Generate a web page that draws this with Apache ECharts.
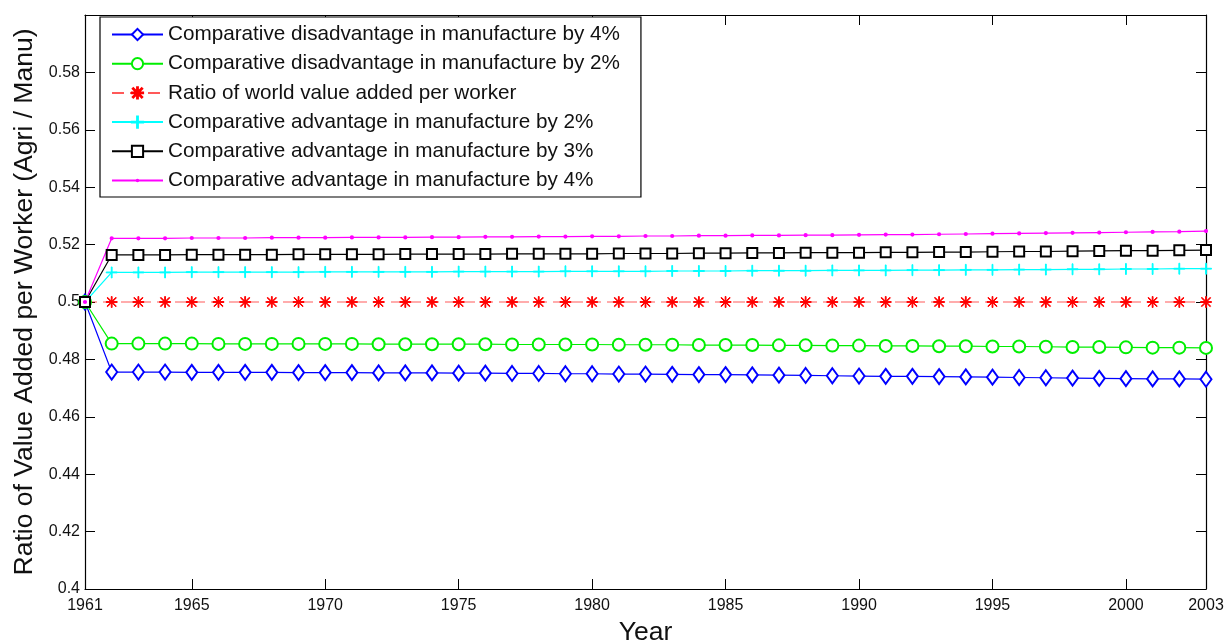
<!DOCTYPE html>
<html>
<head>
<meta charset="utf-8">
<script src="https://cdn.jsdelivr.net/npm/echarts@6/dist/echarts.min.js"></script>
<style>
  html, body { margin: 0; padding: 0; background: #fff; }
  #chart { width: 1228px; height: 640px; }
</style>
</head>
<body>
<div id="chart"></div>
<script>
// Years 1961..2003 (one point per year)
const years = [1961,1962,1963,1964,1965,1966,1967,1968,1969,1970,1971,1972,1973,1974,1975,1976,1977,1978,1979,1980,
  1981,1982,1983,1984,1985,1986,1987,1988,1989,1990,1991,1992,1993,1994,1995,1996,1997,1998,1999,2000,2001,2002,2003];

const xTickLabels = [1961, 1965, 1970, 1975, 1980, 1985, 1990, 1995, 2000, 2003];

const seriesNames = [
  'Comparative disadvantage in manufacture by 4%',
  'Comparative disadvantage in manufacture by 2%',
  'Ratio of world value added per worker',
  'Comparative advantage in manufacture by 2%',
  'Comparative advantage in manufacture by 3%',
  'Comparative advantage in manufacture by 4%'
];

const disadv4 = [0.5000,0.4756,0.4756,0.4756,0.4755,0.4755,0.4755,0.4755,0.4754,0.4754,0.4754,0.4753,0.4753,0.4753,0.4752,0.4752,0.4751,0.4751,0.4750,0.4750,
  0.4749,0.4749,0.4748,0.4747,0.4747,0.4746,0.4745,0.4744,0.4743,0.4742,0.4741,0.4741,0.4740,0.4739,0.4738,0.4737,0.4736,0.4735,0.4734,0.4733,0.4732,0.4732,0.4731];

const disadv2 = [0.5000,0.4855,0.4855,0.4855,0.4855,0.4854,0.4854,0.4854,0.4854,0.4854,0.4854,0.4853,0.4853,0.4853,0.4853,0.4853,0.4852,0.4852,0.4852,0.4852,
  0.4851,0.4851,0.4851,0.4850,0.4850,0.4850,0.4849,0.4849,0.4848,0.4848,0.4847,0.4847,0.4846,0.4846,0.4845,0.4845,0.4844,0.4843,0.4843,0.4842,0.4841,0.4841,0.4840];

const worldRatio = [0.5,0.5,0.5,0.5,0.5,0.5,0.5,0.5,0.5,0.5,0.5,0.5,0.5,0.5,0.5,0.5,0.5,0.5,0.5,0.5,
  0.5,0.5,0.5,0.5,0.5,0.5,0.5,0.5,0.5,0.5,0.5,0.5,0.5,0.5,0.5,0.5,0.5,0.5,0.5,0.5,0.5,0.5,0.5];

const adv2 = [0.5000,0.5103,0.5103,0.5103,0.5104,0.5104,0.5104,0.5104,0.5104,0.5105,0.5105,0.5105,0.5105,0.5105,0.5106,0.5106,0.5106,0.5106,0.5107,0.5107,
  0.5107,0.5107,0.5108,0.5108,0.5108,0.5109,0.5109,0.5109,0.5110,0.5110,0.5110,0.5111,0.5111,0.5112,0.5112,0.5113,0.5113,0.5114,0.5114,0.5115,0.5115,0.5116,0.5116];

const adv3 = [0.5000,0.5164,0.5164,0.5164,0.5165,0.5165,0.5165,0.5165,0.5166,0.5166,0.5166,0.5166,0.5167,0.5167,0.5167,0.5167,0.5168,0.5168,0.5168,0.5168,
  0.5169,0.5169,0.5169,0.5170,0.5170,0.5171,0.5171,0.5172,0.5172,0.5172,0.5173,0.5173,0.5174,0.5174,0.5175,0.5176,0.5176,0.5177,0.5178,0.5179,0.5179,0.5180,0.5181];

const adv4 = [0.5000,0.5222,0.5222,0.5222,0.5223,0.5223,0.5223,0.5224,0.5224,0.5224,0.5225,0.5225,0.5225,0.5226,0.5226,0.5227,0.5227,0.5228,0.5228,0.5229,
  0.5229,0.5230,0.5230,0.5231,0.5231,0.5232,0.5232,0.5233,0.5233,0.5234,0.5235,0.5235,0.5236,0.5237,0.5238,0.5239,0.5240,0.5241,0.5242,0.5243,0.5244,0.5245,0.5247];

const FONT = 'Liberation Sans, Arial, Helvetica, sans-serif';

// Marker shapes drawn as filled thin bars
const plusPath = 'path://M9.25,0h1.5v20h-1.5z M0,9.25h20v1.5h-20z';
const starPath = 'path://M9.25,0h1.5v20h-1.5z M0,9.25h20v1.5h-20z M1.5,2.5L2.5,1.5L18.5,17.5L17.5,18.5z M17.5,1.5L18.5,2.5L2.5,18.5L1.5,17.5z';
// Small point centred in a larger (mostly empty) 20x20 frame
const pointPath = 'path://M0,0h0.01v0.01h-0.01z M20,20h-0.01v-0.01h0.01z M13,10A3,3 0 1,1 7,10A3,3 0 1,1 13,10z';

function pairs(vals) { return years.map((y, i) => [y, vals[i]]); }

function lineSeries(name, vals, color, symbol, size, extra) {
  return Object.assign({
    name: name,
    type: 'line',
    data: pairs(vals),
    symbol: symbol,
    symbolSize: size,
    showAllSymbol: true,
    lineStyle: { color: color, width: 1.2 },
    itemStyle: { color: color, borderColor: color, borderWidth: 1 },
    emphasis: { disabled: true },
    z: 3
  }, extra || {});
}

const chart = echarts.init(document.getElementById('chart'), null, { renderer: 'canvas' });

const axisLineStyle = { show: true, lineStyle: { color: '#000', width: 1.2 } };

chart.setOption({
  animation: false,
  backgroundColor: '#fff',
  grid: { left: 85, right: 22, top: 15, bottom: 51, containLabel: false, outerBoundsMode: 'none' },
  legend: {
    orient: 'vertical',
    left: 100,
    top: 17,
    padding: [7, 21, 6, 11],
    itemWidth: 51,
    itemHeight: 14,
    itemGap: 8.2,
    backgroundColor: '#fff',
    borderColor: '#000',
    borderWidth: 1.2,
    borderRadius: 0,
    textStyle: { fontFamily: FONT, fontSize: 20.7, color: '#111', lineHeight: 20 },
    data: seriesNames
  },
  xAxis: [
    {
      type: 'value', min: 1961, max: 2003, position: 'bottom',
      name: 'Year', nameLocation: 'middle', nameGap: 17,
      nameTextStyle: { fontFamily: FONT, fontSize: 26.5, color: '#111' },
      axisLine: axisLineStyle,
      axisTick: { show: true, inside: true, length: 10, customValues: xTickLabels, lineStyle: { color: '#000' } },
      axisLabel: {
        show: true, customValues: xTickLabels, margin: 9, fontFamily: FONT, fontSize: 16, color: '#111',
        formatter: v => String(v)
      },
      splitLine: { show: false }
    },
    {
      type: 'value', min: 1961, max: 2003, position: 'top',
      axisLine: axisLineStyle,
      axisTick: { show: true, inside: true, length: 10, customValues: xTickLabels, lineStyle: { color: '#000' } },
      axisLabel: { show: false },
      splitLine: { show: false }
    }
  ],
  yAxis: [
    {
      type: 'value', min: 0.4, max: 0.6, interval: 0.02, position: 'left',
      name: 'Ratio of Value Added per Worker (Agri / Manu)',
      nameLocation: 'middle', nameGap: 36, nameRotate: 90,
      nameTextStyle: { fontFamily: FONT, fontSize: 26.5, color: '#111' },
      axisLine: axisLineStyle,
      axisTick: { show: true, inside: true, length: 10, lineStyle: { color: '#000' } },
      axisLabel: {
        show: true, margin: 5, fontFamily: FONT, fontSize: 16, color: '#111',
        formatter: v => (v > 0.595 ? '' : String(parseFloat(v.toFixed(2))))
      },
      splitLine: { show: false }
    },
    {
      type: 'value', min: 0.4, max: 0.6, interval: 0.02, position: 'right',
      axisLine: axisLineStyle,
      axisTick: { show: true, inside: true, length: 10, lineStyle: { color: '#000' } },
      axisLabel: { show: false },
      splitLine: { show: false }
    }
  ],
  series: [
    lineSeries(seriesNames[0], disadv4, '#0000ff', 'emptyDiamond', [11, 15]),
    lineSeries(seriesNames[1], disadv2, '#00ee00', 'emptyCircle', 12),
    lineSeries(seriesNames[2], worldRatio, '#ff0000', starPath, 11, {
      lineStyle: { color: '#ff0000', width: 1.2, type: [12, 6], opacity: 0.65 }
    }),
    lineSeries(seriesNames[3], adv2, '#00ffff', plusPath, 11),
    lineSeries(seriesNames[4], adv3, '#000000', 'emptyRect', 10),
    lineSeries(seriesNames[5], adv4, '#ff00ff', pointPath, 14, {
      itemStyle: { color: '#ff00ff', borderWidth: 0 }
    })
  ]
});
</script>
</body>
</html>
